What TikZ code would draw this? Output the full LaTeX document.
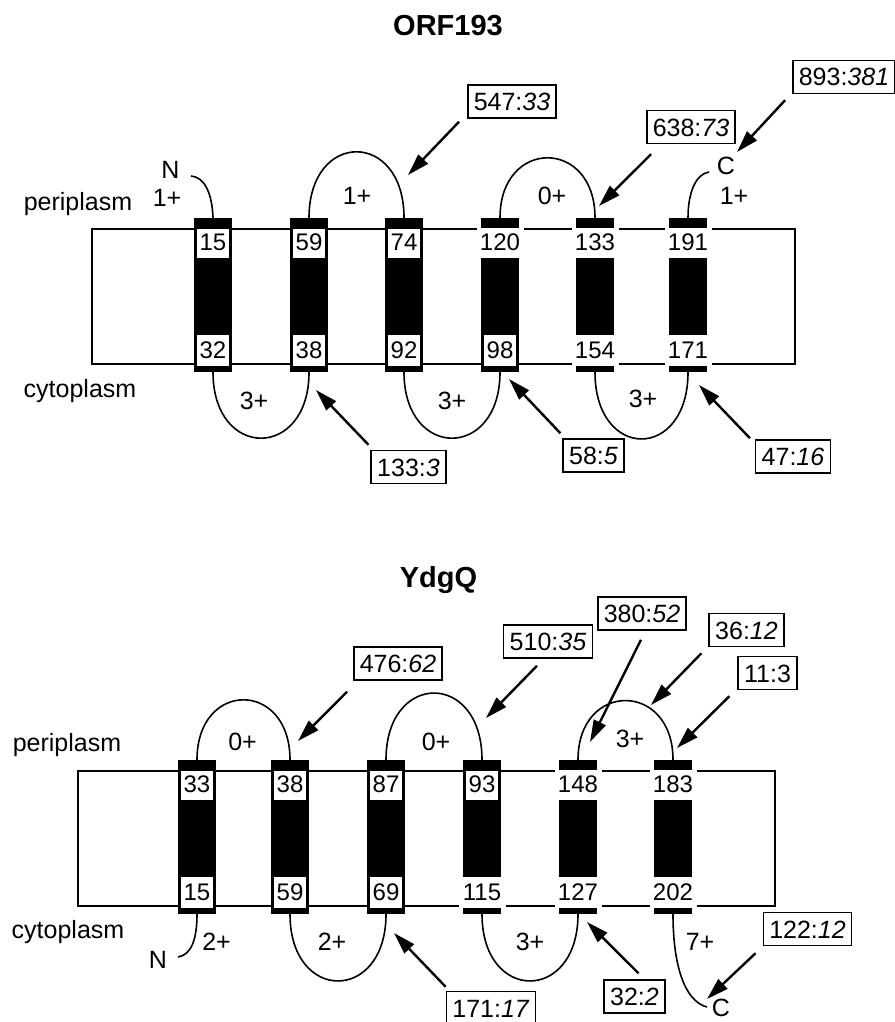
\documentclass[tikz,border=0pt]{standalone}
\usepackage{fontspec}
\setmainfont{Liberation Sans}
\usetikzlibrary{arrows.meta}
\newcommand{\fsz}[1]{\fontsize{#1}{#1}\selectfont}
% #1 name, #2 cx, #3 membrane top, #4 top label, #5 top style, #6 bottom label, #7 bottom style
\newcommand{\mkhelix}[7]{%
  \node[#5] (#1tl) at (#2,#3+14.5) {#4};
  \node[#7] (#1bl) at (#2,#3+121.5) {#6};
  \node[tbar] (#1tb) at (#2,#3-6) {};
  \node[bbar] (#1bb) at (#2,#3+139.75) {};
  \node[hbody] (#1bd) at (#2,#3+67.5) {};
}
\begin{document}
\begin{tikzpicture}[x=1pt,y=-1pt,
  mem/.style={draw,line width=1.5pt},
  hbar/.style={fill=black,inner sep=0pt,minimum width=38pt},
  tbar/.style={hbar,minimum height=10pt},
  bbar/.style={hbar,minimum height=6.5pt},
  hbody/.style={hbar,minimum height=77pt},
  hlab/.style={inner sep=0pt,font=\fsz{24},text height=17pt},
  ftop/.style={hlab,draw=black,fill=white,line width=3pt,minimum width=35pt,minimum height=32pt,text depth=4pt},
  ptop/.style={hlab,fill=white,minimum width=47pt,minimum height=31pt,text depth=4pt},
  fbot/.style={hlab,draw=black,fill=white,line width=3pt,minimum width=35pt,minimum height=34pt,text depth=2pt},
  pbot/.style={hlab,fill=white,minimum width=47pt,minimum height=31pt,text depth=2pt},
  lp/.style={line width=1.6pt},
  arr/.style={line width=2.4pt,-{Triangle[length=22pt,width=13pt]}},
  abox/.style={draw,line width=1.5pt,font=\fsz{25},inner xsep=6pt,inner ysep=0pt,minimum height=33pt,text height=18pt,text depth=0pt},
  txt/.style={font=\fsz{25},inner sep=0pt,anchor=base},
  ttl/.style={font=\fsz{29}\bfseries,inner sep=0pt,anchor=base},
]
\useasboundingbox (0,0) rectangle (894,1022);

% ================= ORF193 =================
\node[ttl] (t1) at (448,36) {ORF193};
\draw[mem] (92,229) rectangle (795,364);
\mkhelix{o1}{213}{229}{15}{ftop}{32}{fbot}
\mkhelix{o2}{309}{229}{59}{ftop}{38}{fbot}
\mkhelix{o3}{404}{229}{74}{ftop}{92}{fbot}
\mkhelix{o4}{500}{229}{120}{ptop}{98}{fbot}
\mkhelix{o5}{595}{229}{133}{ptop}{154}{pbot}
\mkhelix{o6}{688}{229}{191}{ptop}{171}{pbot}

\node[txt] (pp1) at (78,210) {periplasm};
\node[txt] (cy1) at (80,397) {cytoplasm};
\node[txt] (nn1) at (170.5,178) {N};
\node[txt] (cc1) at (726,174) {C};
\node[txt] (q1) at (167,206) {1+};
\node[txt] (q2) at (357,204) {1+};
\node[txt] (q3) at (552,204) {0+};
\node[txt] (q4) at (734,204) {1+};
\node[txt] (q5) at (254,409) {3+};
\node[txt] (q6) at (452,409) {3+};
\node[txt] (q7) at (643,407) {3+};

\coordinate (nN1s) at (191,176);
\draw[lp] (nN1s) .. controls (204,177) and (212,192) .. (o1tb.north);
\coordinate (cC1s) at (709,172);
\draw[lp] (cC1s) .. controls (696,174) and (688,192) .. (o6tb.north);
\draw[lp] (o2tb.north) .. controls +(0,-88) and +(0,-88) .. (o3tb.north);
\draw[lp] (o4tb.north) .. controls +(0,-80) and +(0,-80) .. (o5tb.north);
\draw[lp] (o1bb.south) .. controls +(0,88) and +(0,88) .. (o2bb.south);
\draw[lp] (o3bb.south) .. controls +(0,88) and +(0,88) .. (o4bb.south);
\draw[lp] (o5bb.south) .. controls +(0,89) and +(0,89) .. (o6bb.south);

\node[abox] (a1) at (512,101.5) {547:\textit{33}};
\node[abox] (a2) at (691,127) {638:\textit{73}};
\node[abox] (a3) at (844,77) {893:\textit{381}};
\node[abox] (a4) at (408.5,467) {133:\textit{3}};
\node[abox] (a5) at (593.5,455.5) {58:\textit{5}};
\node[abox] (a6) at (793,456.5) {47:\textit{16}};
\coordinate (ta1) at (408,175);
\coordinate (ta2) at (599,206);
\coordinate (ta3) at (737,152);
\coordinate (ta4) at (316,390);
\coordinate (ta5) at (509,379);
\coordinate (ta6) at (699,385);
\draw[arr] ([shift={(-8,3)}]a1.south west) -- (ta1);
\draw[arr] ([shift={(5,10)}]a2.south west) -- (ta2);
\draw[arr] ([shift={(-7,6)}]a3.south west) -- (ta3);
\draw[arr] ([shift={(-2,-5)}]a4.north west) -- (ta4);
\draw[arr] ([shift={(-2,-5)}]a5.north west) -- (ta5);
\draw[arr] ([shift={(-5,-1)}]a6.north west) -- (ta6);

% ================= YdgQ =================
\node[ttl] (t2) at (438.5,587) {YdgQ};
\draw[mem] (78,771) rectangle (775,906);
\mkhelix{y1}{197}{771}{33}{ftop}{15}{fbot}
\mkhelix{y2}{290}{771}{38}{ftop}{59}{fbot}
\mkhelix{y3}{386}{771}{87}{ftop}{69}{fbot}
\mkhelix{y4}{482}{771}{93}{ftop}{115}{pbot}
\mkhelix{y5}{578}{771}{148}{ptop}{127}{pbot}
\mkhelix{y6}{673}{771}{183}{ptop}{202}{pbot}

\node[txt] (pp2) at (67,751) {periplasm};
\node[txt] (cy2) at (68,938) {cytoplasm};
\node[txt] (q8) at (242.5,750) {0+};
\node[txt] (q9) at (436,750) {0+};
\node[txt] (q10) at (630,747) {3+};
\node[txt] (q11) at (216.5,950) {2+};
\node[txt] (nn2) at (158,968) {N};
\node[txt] (q12) at (332,950) {2+};
\node[txt] (q13) at (530,950) {3+};
\node[txt] (q14) at (700,950) {7+};
\node[txt] (cc2) at (721,1016) {C};

\draw[lp] (y1tb.north) .. controls +(0,-80) and +(0,-80) .. (y2tb.north);
\draw[lp] (y3tb.north) .. controls +(0,-89) and +(0,-89) .. (y4tb.north);
\draw[lp] (y5tb.north) .. controls +(0,-79) and +(0,-79) .. (y6tb.north);
\draw[lp] (y2bb.south) .. controls +(0,89) and +(0,89) .. (y3bb.south);
\draw[lp] (y4bb.south) .. controls +(0,89) and +(0,89) .. (y5bb.south);
\coordinate (nN2e) at (178,957);
\draw[lp] (y1bb.south) .. controls (197,940) and (191,955) .. (nN2e);
\coordinate (cC2e) at (707,1007);
\draw[lp] (y6bb.south) .. controls (673,964) and (684,1001) .. (cC2e);

\node[abox] (b1) at (398,663.5) {476:\textit{62}};
\node[abox] (b2) at (548,641.5) {510:\textit{35}};
\node[abox] (b3) at (642,613.5) {380:\textit{52}};
\node[abox] (b4) at (746.5,630) {36:\textit{12}};
\node[abox] (b5) at (767.5,673) {11:3};
\node[abox] (b6) at (491,1008) {171:\textit{17}};
\node[abox] (b7) at (634.5,996.5) {32:\textit{2}};
\node[abox] (b8) at (807.5,929) {122:\textit{12}};
\coordinate (tb1) at (298,741);
\coordinate (tb2) at (486,718);
\coordinate (tb3) at (590,742);
\coordinate (tb4) at (651,705);
\coordinate (tb5) at (677,748);
\coordinate (tb6) at (394,933);
\coordinate (tb7) at (587,922);
\coordinate (tb8) at (707,999);
\draw[arr] ([shift={(-6,11)}]b1.south west) -- (tb1);
\draw[arr] ([shift={(-11,7)}]b2.south) -- (tb2);
\draw[arr] ([shift={(-1,9)}]b3.south) -- (tb3);
\draw[arr] ([shift={(-7,6)}]b4.south west) -- (tb4);
\draw[arr] ([shift={(-8,6)}]b5.south west) -- (tb5);
\draw[arr] ([shift={(0,-4)}]b6.north west) -- (tb6);
\draw[arr] ([shift={(4,-6)}]b7.north) -- (tb7);
\draw[arr] ([shift={(-7,7)}]b8.south west) -- (tb8);
\end{tikzpicture}
\end{document}
